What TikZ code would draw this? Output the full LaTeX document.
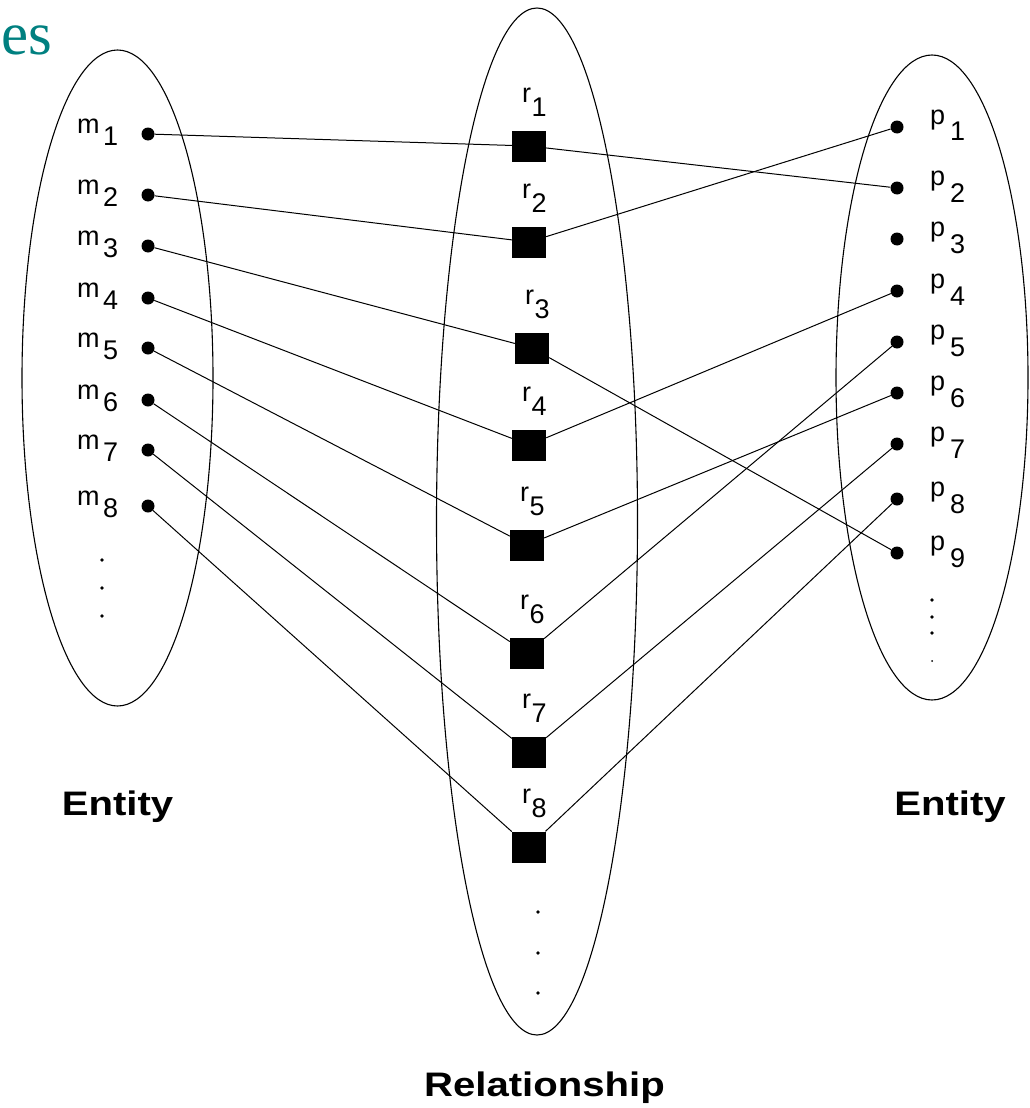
\documentclass[tikz,border=0pt]{standalone}
\usepackage{fontspec}
\setmainfont{Liberation Sans}
\newfontfamily\serifti{Liberation Serif}
\definecolor{tealish}{RGB}{0,128,128}
\begin{document}
\begin{tikzpicture}[x=1pt,y=-1pt,
  dotnode/.style={circle,fill=black,inner sep=0pt,minimum size=13pt},
  relbox/.style={rectangle,fill=black,inner sep=0pt,minimum width=34pt,minimum height=31pt},
  lbl/.style={inner sep=0pt,anchor=base west,font=\fontsize{27}{31}\selectfont},
  bigl/.style={inner sep=0pt,anchor=base,font=\fontsize{34}{40}\selectfont\bfseries,xscale=1.18},
  vdot/.style={circle,fill=black,inner sep=0pt,minimum size=3.6pt},
  conn/.style={line width=1pt},
  oval/.style={line width=1.1pt}]
\useasboundingbox (0,0) rectangle (1030,1108);
% title fragment
\node[inner sep=0pt,anchor=base west,text=tealish,font=\fontsize{61}{66}\serifti] (title) at (1,55) {es};
% ellipses
\draw[oval] (117.5,378) ellipse [x radius=95.5pt, y radius=328pt];
\draw[oval] (537,521.5) ellipse [x radius=100.5pt, y radius=513.5pt];
\draw[oval] (932,377.5) ellipse [x radius=96pt, y radius=322.5pt];
% left entity points
\foreach \i/\y in {1/134,2/195,3/246,4/298,5/348,6/400,7/450,8/506}{
  \node[dotnode] (m\i) at (148,\y) {};
  \node[lbl] (lm\i) at (77,\y-1) {m\hspace{3.5pt}\raisebox{-12pt}{\i}};
}
% right entity points
\foreach \i/\y in {1/127,2/188,3/239,4/291,5/342,6/393,7/444,8/499,9/553}{
  \node[dotnode] (p\i) at (897,\y) {};
  \node[lbl] (lp\i) at (930,\y-3) {p\hspace{5pt}\raisebox{-17pt}{\i}};
}
% relationship boxes
\foreach \i/\x/\y in {1/529/146,2/529/242,3/532/348,4/529/445,5/527/545,6/527/653,7/529/752,8/529/847}{
  \node[relbox] (r\i) at (\x,\y) {};
  \node[lbl] (lr\i) at (\x-7,\y-44) {r\hspace{0.5pt}\raisebox{-14pt}{\i}};
}
% connectors
\draw[conn] (m1) -- (r1); \draw[conn] (r1) -- (p2);
\draw[conn] (m2) -- (r2); \draw[conn] (r2) -- (p1);
\draw[conn] (m3) -- (r3); \draw[conn] (r3) -- (p9);
\draw[conn] (m4) -- (r4); \draw[conn] (r4) -- (p4);
\draw[conn] (m5) -- (r5); \draw[conn] (r5) -- (p6);
\draw[conn] (m6) -- (r6); \draw[conn] (r6) -- (p5);
\draw[conn] (m7) -- (r7); \draw[conn] (r7) -- (p7);
\draw[conn] (m8) -- (r8); \draw[conn] (r8) -- (p8);
% ellipsis dots
\node[vdot] (ld1) at (102,560) {};
\node[vdot] (ld2) at (102,588) {};
\node[vdot] (ld3) at (102,616) {};
\node[vdot] (rd1) at (932,600) {};
\node[vdot] (rd2) at (932,617) {};
\node[vdot] (rd3) at (932,633) {};
\node[vdot,minimum size=2pt] (rd4) at (932,661) {};
\node[vdot] (cd1) at (538,912) {};
\node[vdot] (cd2) at (538,953) {};
\node[vdot] (cd3) at (538,993) {};
% captions
\node[bigl] (entL) at (117.5,815) {Entity};
\node[bigl] (entR) at (950,815) {Entity};
\node[bigl] (rel) at (544.5,1096) {Relationship};
\end{tikzpicture}
\end{document}
